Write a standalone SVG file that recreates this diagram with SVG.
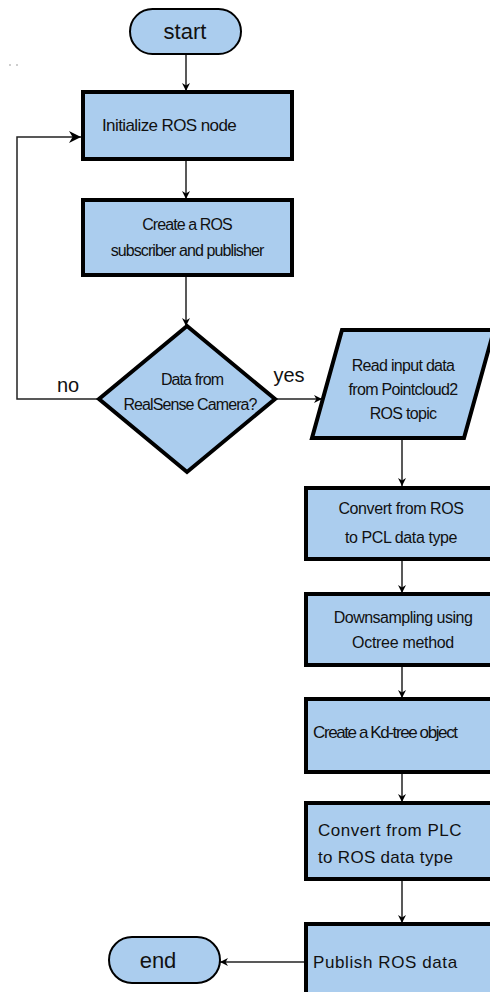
<svg xmlns="http://www.w3.org/2000/svg" width="490" height="992" viewBox="0 0 490 992">
<style>
.box{fill:#abcdee;stroke:#000;stroke-width:4}
.term{fill:#abcdee;stroke:#000;stroke-width:2}
.dia{fill:#abcdee;stroke:#000;stroke-width:4;stroke-linejoin:miter}
.t{font-family:"Liberation Sans",Arial,sans-serif;font-size:16px;fill:#111;text-anchor:middle}
.tl{font-family:"Liberation Sans",Arial,sans-serif;font-size:17px;fill:#111}
.big{font-family:"Liberation Sans",Arial,sans-serif;font-size:22px;fill:#111;text-anchor:middle}
.lbl{font-family:"Liberation Sans",Arial,sans-serif;font-size:20px;fill:#111;text-anchor:middle}
.c{fill:none;stroke:#222;stroke-width:1.5}
</style>
<defs>
<marker id="ah" viewBox="0 0 10 10" refX="10" refY="5" markerWidth="8" markerHeight="8" markerUnits="userSpaceOnUse" orient="auto">
<path d="M0,0 L10,5 L0,10 L3,5 z" fill="#000"/>
</marker>
<marker id="ahw" viewBox="0 0 10 10" refX="10" refY="5" markerWidth="12" markerHeight="12" markerUnits="userSpaceOnUse" orient="auto">
<path d="M0,0 L10,5 L0,10 L3,5 z" fill="#000"/>
</marker>
</defs>
<rect width="490" height="992" fill="#fff"/>
<circle cx="10" cy="65" r="0.7" fill="#777"/>
<circle cx="17" cy="65" r="0.7" fill="#777"/>

<g id="connectors">
<line class="c" x1="186" y1="54" x2="186" y2="91" marker-end="url(#ah)"/>
<line class="c" x1="186" y1="159" x2="186" y2="199" marker-end="url(#ah)"/>
<line class="c" x1="186" y1="275" x2="186" y2="326" marker-end="url(#ah)"/>
<polyline class="c" points="99,399 17,399 17,137 81,137" marker-end="url(#ahw)"/>
<line class="c" x1="275" y1="399" x2="322" y2="399" marker-end="url(#ah)"/>
<line class="c" x1="402" y1="438" x2="402" y2="486" marker-end="url(#ah)"/>
<line class="c" x1="402" y1="559" x2="402" y2="593" marker-end="url(#ah)"/>
<line class="c" x1="402" y1="665" x2="402" y2="698" marker-end="url(#ah)"/>
<line class="c" x1="402" y1="772" x2="402" y2="802" marker-end="url(#ah)"/>
<line class="c" x1="402" y1="879" x2="402" y2="923" marker-end="url(#ah)"/>
<line class="c" x1="306" y1="962" x2="220" y2="962" marker-end="url(#ah)"/>
<text class="lbl" x="68" y="392">no</text>
<text class="lbl" x="289" y="382">yes</text>
</g>

<g id="start">
<rect class="term" x="130" y="9" width="111" height="45" rx="22.5"/>
<text class="big" x="185" y="39">start</text>
</g>

<g id="init">
<rect class="box" x="83" y="92" width="209" height="67"/>
<text class="tl" x="102" y="131" font-size="16" letter-spacing="-0.6">Initialize ROS node</text>
</g>

<g id="create">
<rect class="box" x="83" y="200" width="209" height="75"/>
<text class="t" x="187" y="230" letter-spacing="-0.9">Create a ROS</text>
<text class="t" x="187" y="256" letter-spacing="-0.9">subscriber and publisher</text>
</g>

<g id="decision">
<polygon class="dia" points="187,326 275,399 187,472 99,399"/>
<text class="t" x="192" y="385" font-size="14" letter-spacing="-0.9">Data from</text>
<text class="t" x="190" y="410" font-size="14" letter-spacing="-0.9">RealSense Camera?</text>
</g>

<g id="read">
<polygon class="box" points="342,330 494,330 464,438 312,438"/>
<text class="t" x="403" y="371" letter-spacing="-0.7">Read input data</text>
<text class="t" x="403" y="395" letter-spacing="-0.7">from Pointcloud2</text>
<text class="t" x="403" y="419" letter-spacing="-0.7">ROS topic</text>
</g>

<g id="convert1">
<rect class="box" x="306" y="488" width="200" height="71"/>
<text class="t" x="401" y="514" font-size="17" letter-spacing="-0.4">Convert from ROS</text>
<text class="t" x="401" y="543" font-size="17" letter-spacing="-0.4">to PCL data type</text>
</g>

<g id="downsample">
<rect class="box" x="306" y="594" width="200" height="71"/>
<text class="t" x="403" y="623" letter-spacing="-0.5">Downsampling using</text>
<text class="t" x="403" y="648" font-size="17" letter-spacing="-0.3">Octree method</text>
</g>

<g id="kdtree">
<rect class="box" x="306" y="699" width="200" height="73"/>
<text class="tl" x="313" y="738" font-size="16" letter-spacing="-1.4">Create a Kd-tree object</text>
</g>

<g id="convert2">
<rect class="box" x="306" y="803" width="200" height="76"/>
<text class="tl" x="318" y="836" font-size="16" letter-spacing="0.5">Convert from PLC</text>
<text class="tl" x="318" y="863" font-size="16" letter-spacing="0.3">to ROS data type</text>
</g>

<g id="publish">
<rect class="box" x="306" y="924" width="200" height="80"/>
<text class="tl" x="313" y="968" font-size="16" letter-spacing="0.6">Publish ROS data</text>
</g>

<g id="end">
<rect class="term" x="109" y="937" width="111" height="46" rx="23"/>
<text class="big" x="158" y="968" font-size="21">end</text>
</g>
</svg>
